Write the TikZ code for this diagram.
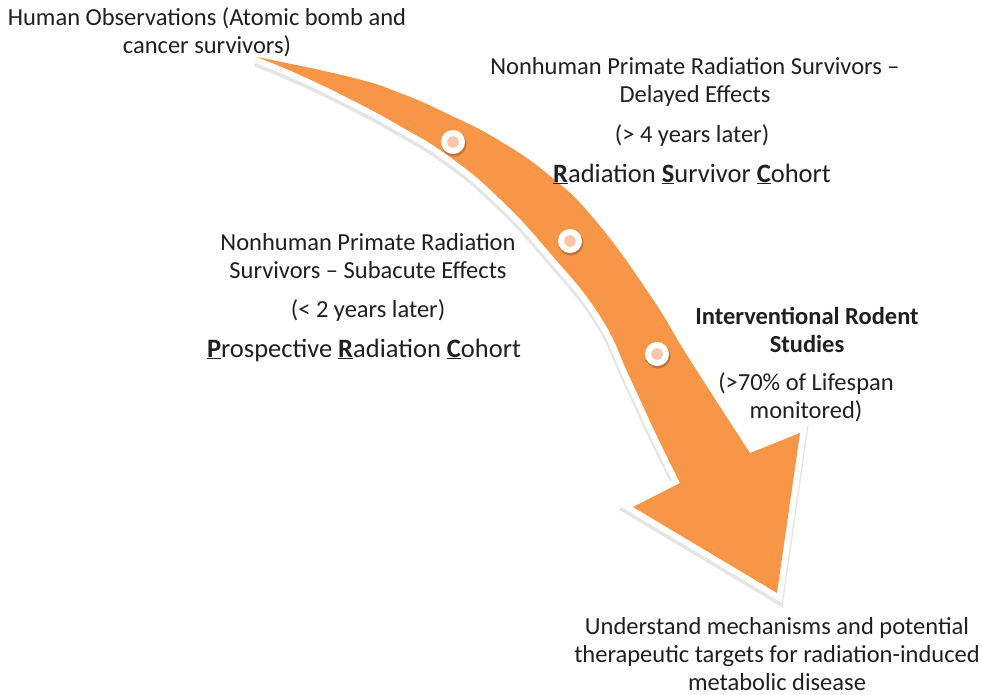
\documentclass[tikz,border=0pt]{standalone}
\usepackage{fontspec}
\setmainfont{Carlito}
\usepackage{tikz}

\definecolor{arroworange}{HTML}{F79646}
\definecolor{dotpink}{HTML}{F8C6AA}
\definecolor{txtgray}{HTML}{1F1F1F}

\newcommand{\capul}[1]{\underline{\textbf{#1}}}

% outline of the curved arrow (pixel units, y downwards)
\newcommand{\arrowoutline}{
  plot[smooth, tension=0.8] coordinates {(257,57) (350,77) (400,93) (450,115) (500,141) (550,176) (595,220) (650,295) (690,360) (750,453)}
  -- (800,433) -- (777,593) -- (633,507) --
  plot[smooth, tension=0.8] coordinates {(680,483) (655,432) (630,378) (600,316) (550,253) (500,199) (450,157) (400,126) (350,99) (300,75) (257,57)}
  -- cycle}

\tikzset{
  lbl/.style={font=\fontsize{24.5}{28}\selectfont, align=center, inner sep=0pt, text=txtgray, anchor=base},
  cohort/.style={lbl, font=\fontsize{26.5}{30}\selectfont},
  stagedot/.style={circle, fill=white, minimum size=24pt, inner sep=0pt}
}

\begin{document}
\begin{tikzpicture}[x=1pt,y=-1pt]
\useasboundingbox (0,0) rectangle (982,694);

% Arrow
\begin{scope}[transparency group, opacity=0.10]
\filldraw[black, line width=14pt, shift={(0,3)}] \arrowoutline;
\end{scope}
\filldraw[white, line width=12pt] \arrowoutline;
\fill[arroworange] \arrowoutline;

% Stage dots
\fill[black, opacity=0.22] (454,144) circle (12.5);
\fill[black, opacity=0.22] (571,243) circle (12.5);
\fill[black, opacity=0.22] (658,356) circle (12.5);
\node[stagedot] (dot1) at (453,142) {};
\node[stagedot] (dot2) at (570,241) {};
\node[stagedot] (dot3) at (657,354) {};
\fill[dotpink] (dot1) circle (5.8);
\fill[dotpink] (dot2) circle (5.8);
\fill[dotpink] (dot3) circle (5.8);

% Labels (anchored at the baseline of the last line)
\node[lbl] (human) at (207,53) {Human Observations (Atomic bomb and\\cancer survivors)};

\node[lbl] (delayed) at (695,102) {Nonhuman Primate Radiation Survivors –\\Delayed Effects};
\node[lbl] (later4) at (692,142) {(> 4 years later)};
\node[cohort] (survivor) at (692,182) {\capul{R}adiation \capul{S}urvivor \capul{C}ohort};

\node[lbl] (subacute) at (368,278) {Nonhuman Primate Radiation\\Survivors – Subacute Effects};
\node[lbl] (later2) at (368,317) {(< 2 years later)};
\node[cohort] (prospective) at (364,357) {\capul{P}rospective \capul{R}adiation \capul{C}ohort};

\node[lbl, font=\fontsize{24.5}{28}\selectfont\bfseries] (rodent) at (807,352) {Interventional Rodent\\Studies};
\node[lbl] (lifespan) at (806,418) {(>70\% of Lifespan\\monitored)};

\node[lbl] (outcome) at (777,690) {Understand mechanisms and potential\\therapeutic targets for radiation-induced\\metabolic disease};

\end{tikzpicture}
\end{document}
